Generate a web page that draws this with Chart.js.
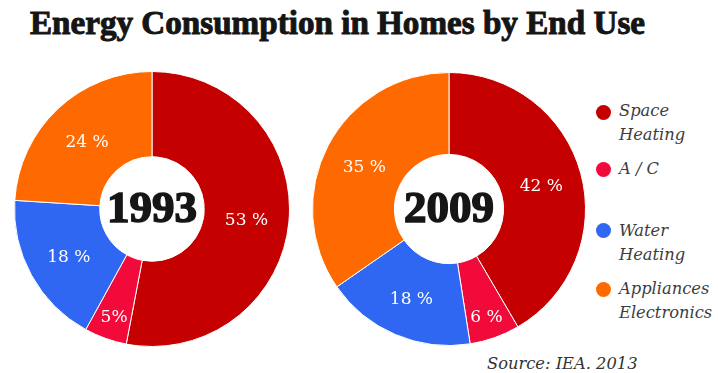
<!DOCTYPE html>
<html>
<head>
<meta charset="utf-8">
<script src="https://cdn.jsdelivr.net/npm/chart.js@4.4.1/dist/chart.umd.min.js"></script>
<style>
  html, body { margin:0; padding:0; background:#fff; }
  #wrap { position:relative; width:718px; height:373px; overflow:hidden; background:#fff; }
  #title { position:absolute; left:30px; top:4px; white-space:nowrap; font-family:"Liberation Serif",serif; font-weight:bold; font-size:34px; color:#151515; -webkit-text-stroke:1px #151515; transform-origin:0 0; }
  canvas { position:absolute; }
  .leg { position:absolute; font-family:"DejaVu Serif",serif; font-style:italic; font-size:16.3px; color:#3d3d3d; line-height:23.5px; white-space:nowrap; }
  .dot { position:absolute; width:15px; height:15px; border-radius:50%; }
  #source { position:absolute; left:487px; top:354px; font-family:"DejaVu Serif",serif; font-style:italic; font-size:16.3px; color:#333; white-space:nowrap; }
</style>
</head>
<body>
<div id="wrap">
  <div id="title">Energy Consumption in Homes by End Use</div>
  <canvas id="c1" width="276" height="276" style="left:14px;top:71px;width:276px;height:276px"></canvas>
  <canvas id="c2" width="274" height="274" style="left:312px;top:72px;width:274px;height:274px"></canvas>
  <div id="legend"></div>
  <div id="source">Source: IEA. 2013</div>
</div>
<script>
// ---- data ----
const categories = ["Space Heating", "A / C", "Water Heating", "Appliances Electronics"];
const legendLines = [["Space", "Heating"], ["A / C"], ["Water", "Heating"], ["Appliances", "Electronics"]];
const years = ["1993", "2009"];
const values1993 = [53, 5, 18, 24];
const values2009 = [42, 6, 18, 35];
const labels1993 = ["53 %", "5%", "18 %", "24 %"];
const labels2009 = ["42 %", "6 %", "18 %", "35 %"];
const colors = ["#c40000", "#f20a3a", "#2f66f2", "#ff6a00"];
const sourceText = "Source: IEA. 2013";

document.getElementById('source').textContent = sourceText;

// title scale
(function(){
  const t = document.getElementById('title');
  const w = t.getBoundingClientRect().width;
  t.style.transform = 'scaleX(' + (615 / w) + ')';
})();

// legend
(function(){
  const lg = document.getElementById('legend');
  const dotY = [105, 162, 223, 282];
  const textTop = [99, 157, 219, 277];
  legendLines.forEach((lines, i) => {
    const d = document.createElement('div');
    d.className = 'dot';
    d.style.left = '596px'; d.style.top = dotY[i] + 'px';
    d.style.background = colors[i];
    lg.appendChild(d);
    const t = document.createElement('div');
    t.className = 'leg';
    t.style.left = '619px'; t.style.top = textTop[i] + 'px';
    t.innerHTML = lines.join('<br>');
    lg.appendChild(t);
  });
})();

const sliceLabelPlugin = {
  id: 'sliceLabels',
  afterDatasetsDraw(chart, args, opts) {
    const ctx = chart.ctx;
    const meta = chart.getDatasetMeta(0);
    ctx.save();
    ctx.fillStyle = '#fff';
    ctx.font = '17px "DejaVu Serif", serif';
    ctx.textAlign = 'center';
    ctx.textBaseline = 'middle';
    meta.data.forEach((arc, i) => {
      const p = arc.getProps(['x','y','startAngle','endAngle','innerRadius','outerRadius'], true);
      const span = p.endAngle - p.startAngle;
      const mid = (p.startAngle + p.endAngle) / 2;
      const f = span < 0.6 ? 0.7 : 0.5;
      const r = p.innerRadius + (p.outerRadius - p.innerRadius) * f;
      ctx.fillText(opts.labels[i], p.x + Math.cos(mid) * r, p.y + Math.sin(mid) * r + 3);
    });
    // center year
    const a = meta.data[0];
    ctx.fillStyle = '#161616';
    ctx.strokeStyle = '#161616';
    ctx.lineWidth = 1.6;
    ctx.font = 'bold 45px "Liberation Serif", serif';
    ctx.fillText(opts.year, a.x, a.y + 1);
    ctx.strokeText(opts.year, a.x, a.y + 1);
    ctx.restore();
  }
};

function makeChart(id, values, labels, year, cutout) {
  return new Chart(document.getElementById(id), {
    type: 'doughnut',
    data: {
      labels: categories,
      datasets: [{ data: values, backgroundColor: colors, borderColor: '#ffffff', borderWidth: 1 }]
    },
    options: {
      responsive: false,
      animation: false,
      cutout: cutout,
      layout: { padding: 0 },
      plugins: {
        legend: { display: false },
        tooltip: { enabled: false },
        title: { display: false },
        sliceLabels: { labels: labels, year: year }
      }
    },
    plugins: [sliceLabelPlugin]
  });
}

makeChart('c1', values1993, labels1993, years[0], '38%');
makeChart('c2', values2009, labels2009, years[1], '40%');
</script>
</body>
</html>
